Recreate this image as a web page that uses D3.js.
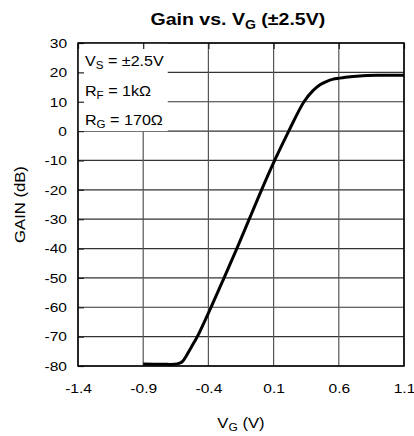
<!DOCTYPE html>
<html><head><meta charset="utf-8">
<script src="https://cdn.jsdelivr.net/npm/d3@7"></script>
<style>body{margin:0;background:#fff} text{font-family:"Liberation Sans",Arial,sans-serif;fill:#000}</style>
</head><body><svg id="c" width="414" height="436"></svg>
<script>
// ---- data ----
const vg   = [-0.9, -0.75, -0.66, -0.62, -0.6, -0.566, -0.53, -0.485, -0.38, -0.28, -0.182, -0.087, 0.008, 0.108, 0.216, 0.333, 0.40, 0.456, 0.50, 0.558, 0.65, 0.76, 0.9, 1.1];
const gain = [-79.3, -79.4, -79.4, -79.0, -78.5, -76.3, -73.5, -70, -60, -50, -40, -30, -20, -10, 0, 10, 13.7, 15.8, 16.8, 17.7, 18.3, 18.8, 19.0, 19.0];
const xTicks = [-1.4, -0.9, -0.4, 0.1, 0.6, 1.1];
const yTicks = [30, 20, 10, 0, -10, -20, -30, -40, -50, -60, -70, -80];
const legendLines = [["V", "S", " = \u00b12.5V"], ["R", "F", " = 1k\u03a9"], ["R", "G", " = 170\u03a9"]];
const titleParts = ["Gain vs. V", "G", " (\u00b12.5V)"];
const xLabelParts = ["V", "G", " (V)"];
const yLabel = "GAIN (dB)";

// ---- setup ----
const K = 1.15; // horizontal stretch of text
const svg = d3.select("#c");
const x = d3.scaleLinear().domain([-1.4, 1.1]).range([78, 404]);
const y = d3.scaleLinear().domain([-80, 30]).range([366, 43]);
const [x0, x1] = x.range(); const [y1, y0] = y.range();
const hy = f => d => f(d).replace("\u2212", "-");

function subText(g, parts, size, bold) {
  const t = g.append("text").attr("font-size", size).attr("font-weight", bold ? "bold" : "normal");
  t.append("tspan").text(parts[0]);
  t.append("tspan").attr("font-size", size * 0.72).attr("dy", size * 0.22).text(parts[1]);
  t.append("tspan").attr("dy", -size * 0.22).text(parts[2]);
  return t;
}

// gridlines
svg.append("g").selectAll("line").data(yTicks).join("line")
  .attr("x1", x0).attr("x2", x1).attr("y1", d => y(d)).attr("y2", d => y(d))
  .attr("stroke", "#333").attr("stroke-width", 1.2);
svg.append("g").selectAll("line").data(xTicks).join("line")
  .attr("y1", y0).attr("y2", y1).attr("x1", d => x(d)).attr("x2", d => x(d))
  .attr("stroke", "#555").attr("stroke-width", 1.2);

// legend text (measure first)
const lg = svg.append("g");
const legTexts = legendLines.map((p, i) => {
  const g = lg.append("g").attr("transform", `translate(${x0 + 7},${y(20) - 6 + i * (y(0) - y(10))}) scale(${K},1)`);
  subText(g, p, 14, false);
  return g;
});
let maxW = 0;
legTexts.forEach(g => { maxW = Math.max(maxW, g.node().getBBox().width * K); });
svg.insert("rect", "g:last-of-type")
  .attr("x", x0).attr("y", y0).attr("width", 7 + maxW + 4).attr("height", y(0) - y0)
  .attr("fill", "#fff");
lg.raise();

// axes
const ax = svg.append("g");
const yAxis = ax.append("g").attr("transform", `translate(${x0},0)`)
  .call(d3.axisLeft(y).tickValues(yTicks).tickSizeInner(-6).tickSizeOuter(0).tickPadding(11 / K).tickFormat(hy(d3.format("d"))));
const topAxis = ax.append("g").attr("transform", `translate(0,${y0})`)
  .call(d3.axisTop(x).tickValues(xTicks).tickSizeInner(-6).tickSizeOuter(0).tickFormat(""));
const xAxis = ax.append("g").attr("transform", `translate(0,${y1})`)
  .call(d3.axisBottom(x).tickValues(xTicks).tickSizeInner(0).tickSizeOuter(0).tickPadding(17).tickFormat(hy(d3.format(".1f"))));
ax.selectAll(".domain").remove();
ax.selectAll(".tick line").attr("stroke", "#222").attr("stroke-width", 1.2);
ax.selectAll(".tick text").attr("font-family", '"Liberation Sans",Arial,sans-serif').attr("font-size", 13.5).attr("fill", "#000");
yAxis.selectAll(".tick text").attr("transform", `scale(${K},1)`);
xAxis.selectAll(".tick text").attr("transform", `scale(${K},1)`);

// frame
svg.append("rect").attr("x", x0).attr("y", y0).attr("width", x1 - x0).attr("height", y1 - y0)
  .attr("fill", "none").attr("stroke", "#000").attr("stroke-width", 1.5);

// curve
const pts = vg.map((v, i) => [v, gain[i]]);
svg.append("path").datum(pts)
  .attr("d", d3.line().x(d => x(d[0])).y(d => y(d[1])).curve(d3.curveCatmullRom.alpha(0.5)))
  .attr("fill", "none").attr("stroke", "#000").attr("stroke-width", 3).attr("stroke-linejoin", "round");

// title
const tg = svg.append("g");
subText(tg, titleParts, 17, true);
const tw = tg.node().getBBox().width * K;
tg.attr("transform", `translate(${(x0 + x1) / 2 - tw / 2 - 3},25) scale(${K},1)`);

// x label
const xg = svg.append("g");
subText(xg, xLabelParts, 14.5, false);
const xw = xg.node().getBBox().width * K;
xg.attr("transform", `translate(${(x0 + x1) / 2 - xw / 2},428) scale(${K},1)`);

// y label
svg.append("g").attr("transform", `translate(25,${(y0 + y1) / 2}) rotate(-90) scale(${K},1)`)
  .append("text").attr("text-anchor", "middle").attr("font-size", 14.5).text(yLabel);
</script></body></html>
